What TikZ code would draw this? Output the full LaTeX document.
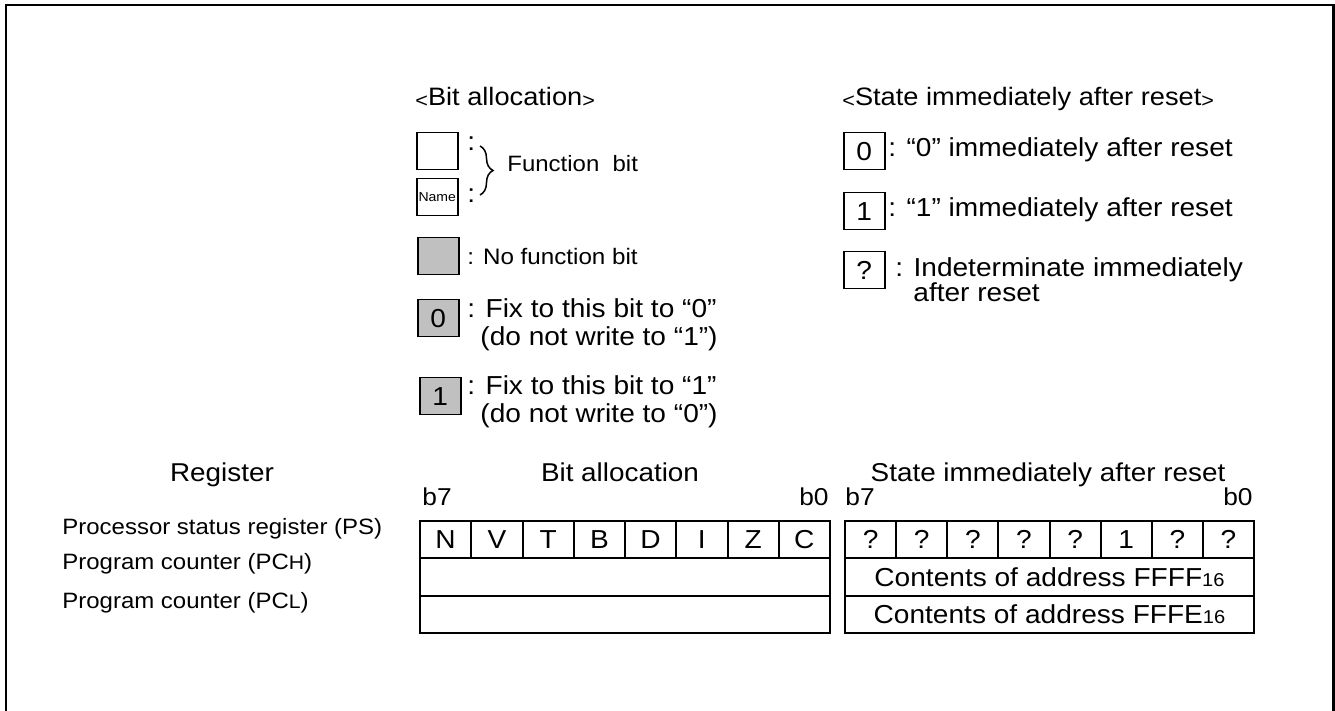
\documentclass[tikz,border=0pt]{standalone}
\usepackage{fontspec}
\setmainfont{Liberation Sans}[FakeStretch=1.08]
\usetikzlibrary{decorations.pathreplacing}
\newcommand\myfs[1]{\fontsize{#1}{#1}\selectfont}
\newcommand\lt{\raisebox{-0.06em}{\myfs{10}<}}
\newcommand\gt{\raisebox{-0.06em}{\myfs{10}>}}
\definecolor{boxgray}{RGB}{192,192,192}
\begin{document}
\begin{tikzpicture}[x=0.5pt,y=-0.5pt,
  legbox/.style={draw,line width=0.75pt,minimum width=20.5pt,minimum height=18.5pt,inner sep=0pt,anchor=north west,font=\myfs{13}},
  graybox/.style={legbox,fill=boxgray},
  cell/.style={draw,line width=1pt,minimum width=25.625pt,minimum height=18.67pt,inner sep=0pt,anchor=north west,font=\myfs{13}},
  rcell/.style={cell,minimum width=25.56pt},
  txt/.style={inner sep=0pt,anchor=base west,font=\myfs{13}},
  lbl/.style={inner sep=0pt,anchor=base west,font=\myfs{11.1}},
  head/.style={inner sep=0pt,anchor=base,font=\myfs{12.9}},
  bitlbl/.style={inner sep=0pt,font=\myfs{12.2}}]
\useasboundingbox (0,0) rectangle (1335,711);
% outer frame
\draw[line width=1.4pt] (6,711) -- (6,5) -- (1333.5,5) -- (1333.5,711);

% ---- legend: bit allocation
\node[txt,font=\myfs{12.6}] (tba) at (415,106) {\lt Bit allocation\gt};
\node[legbox] (lb1) at (416,132) {};
\node[txt] (lc1) at (467,151) {:};
\node[legbox,font=\myfs{6.5}] (lb2) at (416,178) {Name};
\node[txt] (lc2) at (467,203) {:};
\coordinate (bt) at (480,146);
\coordinate (bb) at (480,195);
\draw[line width=0.75pt,decorate,decoration={brace,amplitude=6.5pt}] (bt) -- (bb);
\node[txt,font=\myfs{11.1}] (lfb) at (507,172) {Function\ \ bit};
\node[graybox] (lb3) at (417,237) {};
\node[txt,font=\myfs{11.2}] (lnf) at (467,265) {: No function bit};
\node[graybox] (lb4) at (417,299) {0};
\node[txt] (lf0) at (467,318) {: Fix to this bit to “0”};
\node[txt] (lf0b) at (480,346) {(do not write to “1”)};
\node[graybox] (lb5) at (419,377) {1};
\node[txt] (lf1) at (467,395) {: Fix to this bit to “1”};
\node[txt] (lf1b) at (480,423) {(do not write to “0”)};

% ---- legend: state after reset
\node[txt,font=\myfs{12.6}] (tsr) at (842,106) {\lt State immediately after reset\gt};
\node[legbox] (rb0) at (843,132) {0};
\node[txt] (rt0) at (888,157) {: “0” immediately after reset};
\node[legbox] (rb1) at (843,192) {1};
\node[txt] (rt1) at (888,217) {: “1” immediately after reset};
\node[legbox] (rbq) at (843,251) {?};
\node[txt] (rtq) at (895,277) {: Indeterminate immediately};
\node[txt] (rtq2) at (913,302) {after reset};

% ---- register table headings
\node[head] (hreg) at (222,481) {Register};
\node[head] (hba) at (620,481) {Bit allocation};
\node[head] (hsr) at (1048,481) {State immediately after reset};
\node[bitlbl,anchor=base west] (lb7) at (422,506) {b7};
\node[bitlbl,anchor=base east] (lb0) at (829,506) {b0};
\node[bitlbl,anchor=base west] (rb7) at (845,506) {b7};
\node[bitlbl,anchor=base east] (rb0l) at (1253,506) {b0};

% ---- register names
\node[lbl] (rps) at (62,535) {Processor status register (PS)};
\node[lbl] (rpch) at (62,569) {Program counter (PC{\myfs{9.8}H})};
\node[lbl] (rpcl) at (62,608) {Program counter (PC{\myfs{9.8}L})};

% ---- bit allocation table
\foreach \t [count=\i from 0] in {N,V,T,B,D,I,Z,C}
  \node[cell] (ba\i) at ({419+51.25*\i},520) {\t};
\node[cell,minimum width=205pt] (bah) at (419,557.33) {};
\node[cell,minimum width=205pt] (bal) at (419,594.67) {};

% ---- reset state table
\foreach \t [count=\i from 0] in {?,?,?,?,?,1,?,?}
  \node[rcell] (sr\i) at ({844+51.125*\i},520) {\t};
\node[cell,minimum width=204.5pt] (srh) at (844,557.33) {Contents of address FFFF{\myfs{9.3}16}};
\node[cell,minimum width=204.5pt] (srl) at (844,594.67) {Contents of address FFFE{\myfs{9.3}16}};
\end{tikzpicture}
\end{document}
